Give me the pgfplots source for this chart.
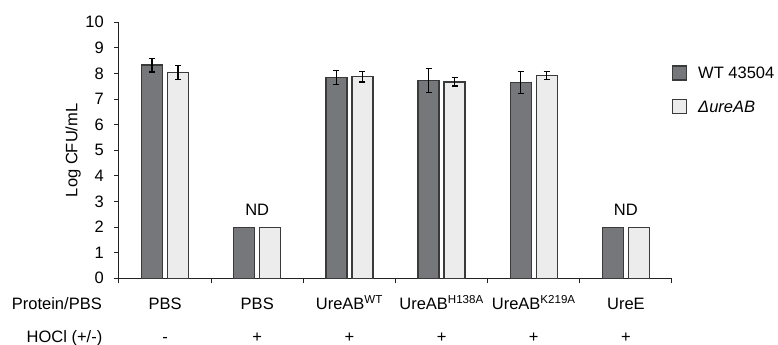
\documentclass[border=0pt]{standalone}
\usepackage{pgfplots}
\pgfplotsset{compat=1.18}
\usepackage{fontspec}
\setmainfont{Liberation Sans}
\definecolor{darkbar}{HTML}{76777B}
\definecolor{lightbar}{HTML}{ECECEC}
\definecolor{barline}{HTML}{3A3A3A}
\definecolor{axline}{HTML}{222222}
\pgfplotstableread{
x y e
0 8.33 0.27
2 7.85 0.28
3 7.72 0.47
4 7.64 0.43
}\darkdata
\pgfplotstableread{
x y
1 2
5 2
}\darkND
\pgfplotstableread{
x y e
0 8.05 0.27
2 7.87 0.20
3 7.67 0.16
4 7.91 0.16
}\lightdata
\pgfplotstableread{
x y
1 2
5 2
}\lightND
\begin{document}
\fontsize{16.5bp}{19bp}\selectfont
\begin{tikzpicture}
\useasboundingbox (-119bp,-66.7bp) rectangle (659bp,278.3bp);
\begin{axis}[
  at={(0,0)}, anchor=south west, scale only axis,
  width=553bp, height=256bp,
  xmin=-0.5, xmax=5.5, ymin=0, ymax=10,
  clip=false,
  axis x line*=bottom, axis y line*=left,
  axis line style={line width=1bp, axline},
  tick style={line width=1bp, axline},
  tick align=outside, major tick length=5bp,
  ytick={0,1,2,3,4,5,6,7,8,9,10},
  xtick={-0.5,0.5,1.5,2.5,3.5,4.5,5.5}, xticklabels={},
  extra x ticks={0,1,2,3,4,5},
  extra x tick labels={PBS,PBS,UreAB\textsuperscript{WT},UreAB\textsuperscript{H138A},UreAB\textsuperscript{K219A},UreE},
  extra x tick style={major tick length=0pt, xticklabel style={anchor=base, inner sep=0pt, yshift=-31.2bp}},
  /pgf/number format/assume math mode=true,
  tick label style={font=\fontsize{16.5bp}{19bp}\selectfont},
  yticklabel style={anchor=east, inner sep=0pt, xshift=-10bp},
  ylabel={Log CFU/mL},
  ylabel style={at={(axis description cs:-0.0832,0.5)}, anchor=center, inner sep=0pt},
  legend style={at={(1,0.832)}, anchor=north west, draw=none, fill=none,
    inner sep=0pt, outer sep=0pt, row sep=18.4bp, column sep=11bp,
    nodes={inner sep=0pt, text depth=0pt, anchor=base west},
    font=\fontsize{16.5bp}{19bp}\selectfont},
  legend cell align=left,
  error bars/error mark options={rotate=90, mark size=3bp, line width=1.2bp, black},
]
\addplot[ybar, bar width=21bp, bar shift=-13bp, fill=darkbar, draw=barline, line width=1.2bp,
  legend image code/.code={\draw[fill=darkbar, draw=barline, line width=1.2bp] (0bp,-1.5bp) rectangle (14bp,12.5bp);},
  error bars/.cd, y dir=both, y explicit,
  error bar style={line width=1.2bp, black, xshift=-13bp}]
  table[x=x, y=y, y error=e] {\darkdata};
\addlegendentry{WT 43504}
\addplot[ybar, bar width=21bp, bar shift=13bp, fill=lightbar, draw=barline, line width=1.2bp,
  legend image code/.code={\draw[fill=lightbar, draw=barline, line width=1.2bp] (0bp,-1.5bp) rectangle (14bp,12.5bp);},
  error bars/.cd, y dir=both, y explicit,
  error bar style={line width=1.2bp, black, xshift=13bp}]
  table[x=x, y=y, y error=e] {\lightdata};
\addlegendentry{\textit{Δ}\textit{ureAB}}
\addplot[ybar, bar width=21bp, bar shift=-13bp, fill=darkbar, draw=barline, line width=1.2bp, forget plot]
  table[x=x, y=y] {\darkND};
\addplot[ybar, bar width=21bp, bar shift=13bp, fill=lightbar, draw=barline, line width=1.2bp, forget plot]
  table[x=x, y=y] {\lightND};
\node[anchor=base, inner sep=0pt] at (axis cs:1,2) [yshift=12bp] {ND};
\node[anchor=base, inner sep=0pt] at (axis cs:5,2) [yshift=12bp] {ND};
\node[anchor=base, inner sep=0pt] at (axis cs:0,0) [yshift=-64bp] {-};
\node[anchor=base, inner sep=0pt] at (axis cs:1,0) [yshift=-64bp] {+};
\node[anchor=base, inner sep=0pt] at (axis cs:2,0) [yshift=-64bp] {+};
\node[anchor=base, inner sep=0pt] at (axis cs:3,0) [yshift=-64bp] {+};
\node[anchor=base, inner sep=0pt] at (axis cs:4,0) [yshift=-64bp] {+};
\node[anchor=base, inner sep=0pt] at (axis cs:5,0) [yshift=-64bp] {+};
\end{axis}
\node[anchor=base west, inner sep=0pt] at (-107.3bp,-31.2bp) {Protein/PBS};
\node[anchor=base west, inner sep=0pt] at (-92.5bp,-64bp) {HOCl (+/-)};
\end{tikzpicture}
\end{document}
